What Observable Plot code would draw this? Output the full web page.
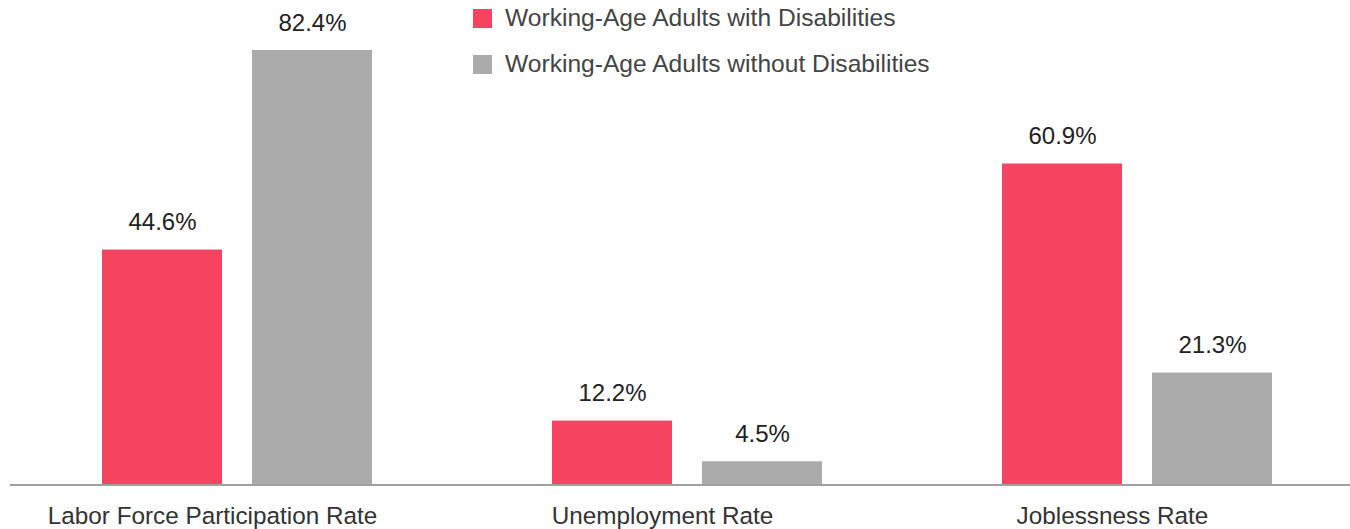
<!DOCTYPE html>
<html><head><meta charset="utf-8">
<script src="https://cdn.jsdelivr.net/npm/d3@7"></script>
<script src="https://cdn.jsdelivr.net/npm/@observablehq/plot@0.6"></script>
<style>
body{margin:0;background:#fff;}
#wrap{position:relative;width:1350px;height:529px;font-family:"Liberation Sans",Arial,sans-serif;}
#legend{position:absolute;left:473px;top:8px;}
.item{display:flex;align-items:center;height:20px;margin-bottom:26px;font-size:24.6px;color:#444;white-space:nowrap;}
.sw{width:19px;height:19px;margin-right:13px;flex:none;}
</style></head><body><div id="wrap"><div id="legend"></div></div>
<script>
const categories = ["Labor Force Participation Rate", "Unemployment Rate", "Joblessness Rate"];
const series = ["Working-Age Adults with Disabilities", "Working-Age Adults without Disabilities"];
const withDisabilities = [44.6, 12.2, 60.9];
const withoutDisabilities = [82.4, 4.5, 21.3];
const colors = ["#F54360", "#ABABAB"];

const data = categories.flatMap((c, i) => [
  {category: c, series: series[0], value: withDisabilities[i]},
  {category: c, series: series[1], value: withoutDisabilities[i]}
]);

const font = '"Liberation Sans", Arial, sans-serif';
const plot = Plot.plot({
  width: 1350, height: 529,
  marginTop: 50, marginBottom: 44, marginLeft: 102, marginRight: 78,
  style: {fontFamily: font, fontSize: "24px", background: "white", overflow: "visible"},
  fx: {domain: categories, paddingInner: 0.4, paddingOuter: 0, label: null, axis: null},
  x: {domain: series, paddingInner: 0.2, paddingOuter: 0, axis: null},
  y: {domain: [0, d3.max(data, d => d.value)], axis: null},
  color: {domain: series, range: colors},
  marks: [
    Plot.barY(data, {fx: "category", x: "series", y: "value", fill: "series"}),
    Plot.text(data, {fx: "category", x: "series", y: "value", text: d => d.value.toFixed(1) + "%",
      dy: -20, lineAnchor: "bottom", fill: "#222", fontSize: 24}),
    Plot.axisFx({anchor: "bottom", tickSize: 0, tickPadding: 21, fontSize: 24.3, dx: -25, fill: "#333", label: null})
  ]
});

// baseline axis line across the chart width
const y0 = plot.scale("y").apply(0);
d3.select(plot).append("line")
  .attr("x1", 10).attr("x2", 1350).attr("y1", y0).attr("y2", y0)
  .attr("stroke", "#A0A0A0").attr("stroke-width", 2);

document.getElementById("wrap").prepend(plot);

const legend = d3.select("#legend");
series.forEach((s, i) => {
  const it = legend.append("div").attr("class", "item");
  it.append("div").attr("class", "sw").style("background", colors[i]);
  it.append("span").text(s);
});
</script></body></html>
